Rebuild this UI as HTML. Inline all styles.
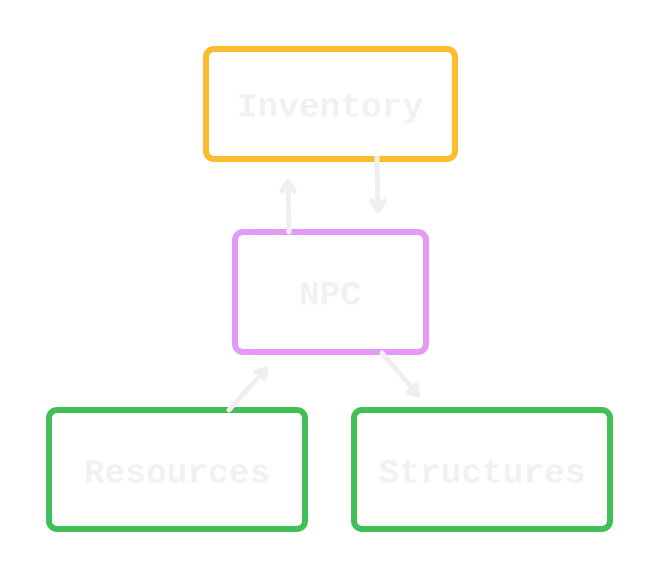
<!DOCTYPE html>
<html><head><style>
html,body{margin:0;padding:0;background:#fff;}
svg{display:block}
text{font-family:"Liberation Mono",monospace;font-weight:bold;font-size:34.5px;fill:#f1f1f1;text-anchor:middle;dominant-baseline:central}
</style></head><body>
<svg width="660" height="580" viewBox="0 0 660 580">
<g fill="none" stroke-width="6" stroke-linejoin="round">
<rect x="206" y="49" width="249" height="110" rx="8" stroke="#fcbc2f"/>
<rect x="235" y="232" width="191" height="120" rx="8" stroke="#e599f7"/>
<rect x="49" y="410" width="256" height="119" rx="8" stroke="#40c057"/>
<rect x="354" y="410" width="256" height="119" rx="8" stroke="#40c057"/>
</g>
<g stroke="#efefef" stroke-width="5" stroke-linecap="round" stroke-linejoin="round" fill="none">
<path d="M289 232 L288 182 M282 191 L288 181 L294 191"/>
<path d="M377 158 L378 210 M372 201 L378 211 L384 201"/>
<path d="M229 410 L266 369 M256 372 L266 369 L264 379"/>
<path d="M382 353 L418 395 M416 385 L418 395 L408 392"/>
</g>
<text x="330" y="108">Inventory</text>
<text x="330" y="296">NPC</text>
<text x="177" y="474">Resources</text>
<text x="482" y="474">Structures</text>
</svg>
</body></html>
